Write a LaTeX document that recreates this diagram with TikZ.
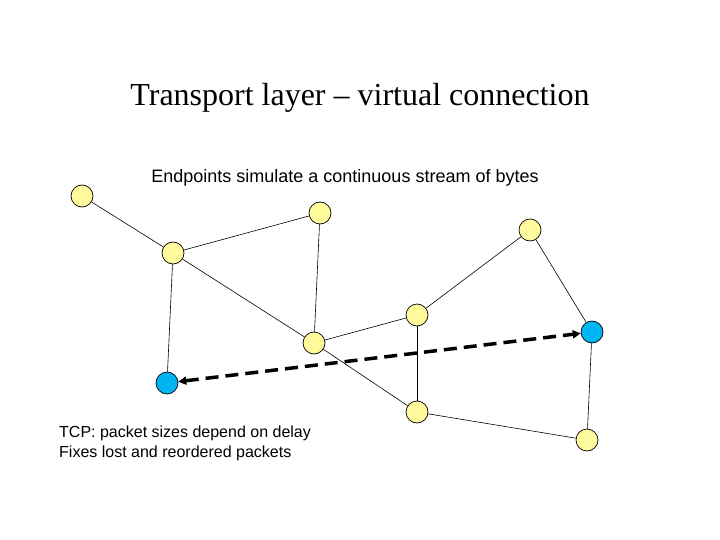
\documentclass[tikz,border=0pt]{standalone}
\usepackage{fontspec}
\setmainfont{Liberation Serif}
\newfontfamily\arialf{Liberation Sans}
\usetikzlibrary{arrows.meta}
\definecolor{nodeyellow}{RGB}{255,250,155}
\definecolor{nodeblue}{RGB}{0,180,240}
\tikzset{
  netnode/.style={circle,draw=black,line width=0.7pt,minimum size=22pt,inner sep=0pt},
  ynode/.style={netnode,fill=nodeyellow},
  bnode/.style={netnode,fill=nodeblue},
  link/.style={draw=black,line width=0.6pt},
  virt/.style={draw=black,line width=3.5pt,dash pattern=on 13pt off 7pt,{Triangle[length=8pt,width=8pt]}-{Triangle[length=8pt,width=8pt]}}
}
\begin{document}
\begin{tikzpicture}[x=1pt,y=-1pt]
\useasboundingbox (0,0) rectangle (720,540);
\node[anchor=base,font=\fontsize{32}{36}\selectfont] (title) at (360,106) {Transport layer – virtual connection};
\node[anchor=base,font=\arialf\fontsize{18}{21}\selectfont] (sub) at (345,183) {Endpoints simulate a continuous stream of bytes};
\node[anchor=north west,align=left,inner sep=0pt,font=\arialf\fontsize{16}{19.5}\selectfont] (note) at (59,426) {TCP: packet sizes depend on delay\\Fixes lost and reordered packets};
\node[ynode] (A) at (82,196) {};
\node[ynode] (B) at (173,253) {};
\node[ynode] (C) at (320,213) {};
\node[bnode] (D) at (167,383) {};
\node[ynode] (E) at (314,343) {};
\node[ynode] (F) at (417,315) {};
\node[ynode] (G) at (417,412) {};
\node[ynode] (H) at (530,230) {};
\node[bnode] (I) at (592,332) {};
\node[ynode] (J) at (587,440) {};
\draw[link] (A) -- (B);
\draw[link] (B) -- (C);
\draw[link] (B) -- (D);
\draw[link] (B) -- (E);
\draw[link] (C) -- (E);
\draw[link] (E) -- (F);
\draw[link] (E) -- (G);
\draw[link] (F) -- (G);
\draw[link] (F) -- (H);
\draw[link] (H) -- (I);
\draw[link] (I) -- (J);
\draw[link] (G) -- (J);
\draw[virt] (D) -- (I);
\end{tikzpicture}
\end{document}
